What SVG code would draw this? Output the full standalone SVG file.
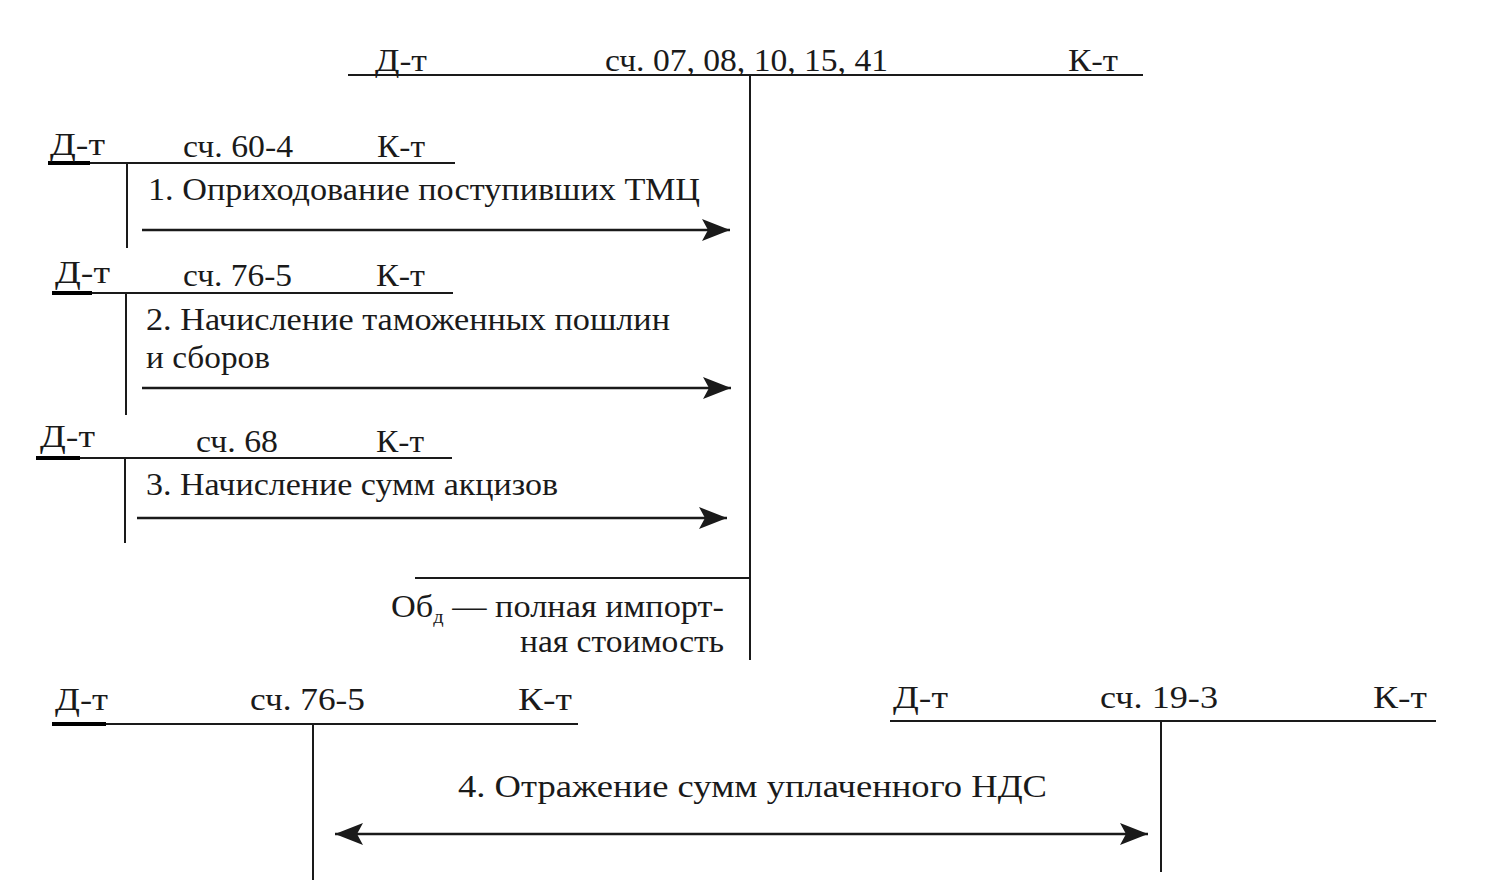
<svg xmlns="http://www.w3.org/2000/svg" width="1511" height="894" viewBox="0 0 1511 894">
<style>
text{font-family:"Liberation Serif","DejaVu Serif",serif;fill:#1a1a1a;font-size:32px}
.ln{stroke:#1a1a1a;stroke-width:2;fill:none}
.thk{stroke:#000;stroke-width:4;fill:none}
.arr{stroke:#1a1a1a;stroke-width:2.5;fill:none}
</style>
<defs>
<marker id="ah" markerUnits="userSpaceOnUse" markerWidth="30" markerHeight="24" refX="28" refY="12" orient="auto-start-reverse">
<path d="M0,1 L28,12 L0,23 L6,12 Z" fill="#1a1a1a"/>
</marker>
</defs>
<rect width="1511" height="894" fill="#fff"/>

<g id="acc-main">
<line class="ln" x1="348" y1="75" x2="1143" y2="75"/>
<line class="ln" x1="750" y1="75" x2="750" y2="660"/>
<line class="ln" x1="415" y1="578" x2="750" y2="578"/>
<text x="375" y="71" textLength="52" lengthAdjust="spacingAndGlyphs">Д-т</text>
<text x="605" y="71" textLength="283" lengthAdjust="spacingAndGlyphs">сч. 07, 08, 10, 15, 41</text>
<text x="1068" y="71" textLength="50" lengthAdjust="spacingAndGlyphs">К-т</text>
<text x="724" y="617" text-anchor="end" textLength="333" lengthAdjust="spacingAndGlyphs">Об<tspan font-size="19" dy="6">д</tspan><tspan dy="-6"> — полная импорт-</tspan></text>
<text x="724" y="652" text-anchor="end" textLength="204" lengthAdjust="spacingAndGlyphs">ная стоимость</text>
</g>

<g id="acc-60-4">
<line class="ln" x1="88" y1="163" x2="455" y2="163"/>
<line class="thk" x1="48" y1="163" x2="90" y2="163"/>
<line class="ln" x1="127" y1="163" x2="127" y2="248"/>
<text x="50" y="155" textLength="55" lengthAdjust="spacingAndGlyphs">Д-т</text>
<text x="183" y="157" textLength="110" lengthAdjust="spacingAndGlyphs">сч. 60-4</text>
<text x="377" y="157" textLength="48" lengthAdjust="spacingAndGlyphs">К-т</text>
<text x="148" y="200" textLength="552" lengthAdjust="spacingAndGlyphs">1. Оприходование поступивших ТМЦ</text>
</g>

<g id="acc-76-5-top">
<line class="ln" x1="88" y1="293" x2="453" y2="293"/>
<line class="thk" x1="52" y1="293" x2="92" y2="293"/>
<line class="ln" x1="126" y1="293" x2="126" y2="415"/>
<text x="55" y="283" textLength="55" lengthAdjust="spacingAndGlyphs">Д-т</text>
<text x="183" y="286" textLength="109" lengthAdjust="spacingAndGlyphs">сч. 76-5</text>
<text x="376" y="286" textLength="49" lengthAdjust="spacingAndGlyphs">К-т</text>
<text x="146" y="330" textLength="524" lengthAdjust="spacingAndGlyphs">2. Начисление таможенных пошлин</text>
<text x="146" y="368" textLength="124" lengthAdjust="spacingAndGlyphs">и сборов</text>
</g>

<g id="acc-68">
<line class="ln" x1="78" y1="458" x2="452" y2="458"/>
<line class="thk" x1="36" y1="458" x2="80" y2="458"/>
<line class="ln" x1="125" y1="458" x2="125" y2="543"/>
<text x="40" y="447" textLength="55" lengthAdjust="spacingAndGlyphs">Д-т</text>
<text x="196" y="452" textLength="82" lengthAdjust="spacingAndGlyphs">сч. 68</text>
<text x="376" y="452" textLength="48" lengthAdjust="spacingAndGlyphs">К-т</text>
<text x="146" y="495" textLength="412" lengthAdjust="spacingAndGlyphs">3. Начисление сумм акцизов</text>
</g>

<g id="acc-76-5-bottom">
<line class="ln" x1="100" y1="724" x2="578" y2="724"/>
<line class="thk" x1="52" y1="724" x2="106" y2="724"/>
<line class="ln" x1="313" y1="724" x2="313" y2="880"/>
<text x="55" y="710" textLength="53" lengthAdjust="spacingAndGlyphs">Д-т</text>
<text x="250" y="710" textLength="115" lengthAdjust="spacingAndGlyphs">сч. 76-5</text>
<text x="518" y="710" textLength="54" lengthAdjust="spacingAndGlyphs">К-т</text>
</g>

<g id="acc-19-3">
<line class="ln" x1="890" y1="721" x2="1436" y2="721"/>
<line class="ln" x1="1161" y1="721" x2="1161" y2="872"/>
<text x="893" y="708" textLength="55" lengthAdjust="spacingAndGlyphs">Д-т</text>
<text x="1100" y="708" textLength="118" lengthAdjust="spacingAndGlyphs">сч. 19-3</text>
<text x="1373" y="708" textLength="54" lengthAdjust="spacingAndGlyphs">К-т</text>
</g>

<g id="connectors">
<line class="arr" x1="142" y1="230" x2="730" y2="230" marker-end="url(#ah)"/>
<line class="arr" x1="142" y1="388" x2="731" y2="388" marker-end="url(#ah)"/>
<line class="arr" x1="137" y1="518" x2="727" y2="518" marker-end="url(#ah)"/>
<line class="arr" x1="335" y1="834" x2="1148" y2="834" marker-start="url(#ah)" marker-end="url(#ah)"/>
<text x="458" y="797" textLength="589" lengthAdjust="spacingAndGlyphs">4. Отражение сумм уплаченного НДС</text>
</g>
</svg>
